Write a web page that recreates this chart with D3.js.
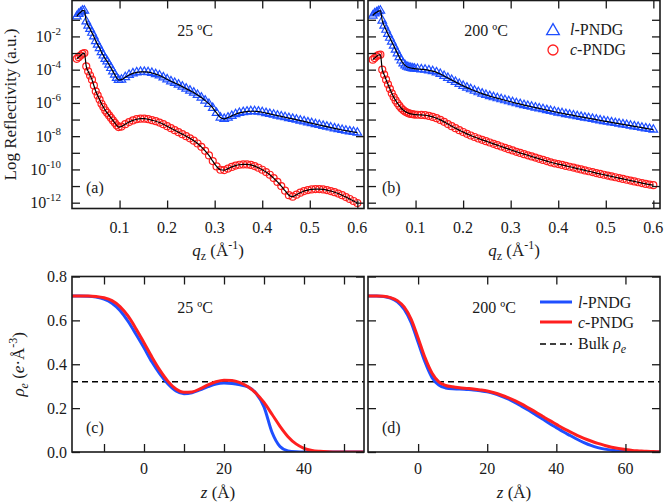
<!DOCTYPE html>
<html>
<head>
<meta charset="utf-8">
<script src="https://cdn.jsdelivr.net/npm/d3@7"></script>
<style>
  body { margin: 0; background: #fff; }
  svg { display: block; font-family: "Liberation Serif", "Times New Roman", serif; }
</style>
</head>
<body>
<div id="chart"></div>
<script>
// q_z values of the reflectivity points (1/Å)
const qz = [0.010,0.014,0.018,0.022,0.026,0.030,0.034,0.038,0.042,0.046,0.050,0.054,0.058,0.062,0.066,0.070,0.074,0.078,0.082,0.086,0.090,0.094,0.098,
  0.104,0.112,0.120,0.128,0.136,0.144,0.152,0.160,0.168,0.176,0.184,0.192,0.200,0.208,0.216,0.224,0.232,0.240,0.248,0.256,0.264,0.272,0.280,0.288,0.296,0.304,0.312,0.320,
  0.328,0.336,0.344,0.352,0.360,0.368,0.376,0.384,0.392,0.400,0.408,0.416,0.424,0.432,0.440,0.448,0.456,0.464,0.472,0.480,0.488,0.496,0.504,0.512,0.520,0.528,0.536,0.544,
  0.552,0.560,0.568,0.576,0.584,0.592,0.600];

// log10 reflectivity, 25 ºC
const linear25 = [-0.80,-0.65,-0.55,-0.45,-0.45,-1.10,-1.35,-1.55,-1.78,-2.00,-2.28,-2.50,-2.70,-2.95,-3.15,-3.35,-3.50,-3.70,-3.90,-4.10,-4.30,-4.50,-4.62,
  -4.60,-4.45,-4.32,-4.22,-4.16,-4.13,-4.13,-4.15,-4.20,-4.27,-4.35,-4.46,-4.58,-4.70,-4.80,-4.90,-5.02,-5.14,-5.26,-5.38,-5.52,-5.68,-5.86,-6.06,-6.30,-6.60,-6.88,-6.96,
  -6.88,-6.78,-6.68,-6.60,-6.55,-6.52,-6.50,-6.50,-6.52,-6.56,-6.61,-6.66,-6.71,-6.76,-6.81,-6.86,-6.91,-6.96,-7.01,-7.06,-7.11,-7.17,-7.22,-7.28,-7.33,-7.38,-7.43,-7.48,
  -7.53,-7.58,-7.63,-7.67,-7.71,-7.75,-7.79];
const cyclic25 = [-3.35,-3.25,-3.15,-3.05,-3.00,-3.80,-4.10,-4.35,-4.60,-4.95,-5.30,-5.55,-5.80,-6.05,-6.25,-6.45,-6.60,-6.75,-6.90,-7.05,-7.20,-7.35,-7.45,
  -7.42,-7.28,-7.15,-7.05,-6.98,-6.95,-6.95,-6.98,-7.04,-7.10,-7.18,-7.28,-7.40,-7.52,-7.64,-7.76,-7.88,-8.00,-8.13,-8.27,-8.44,-8.64,-8.88,-9.16,-9.50,-9.82,-10.02,-10.04,
  -9.95,-9.85,-9.77,-9.72,-9.70,-9.70,-9.73,-9.80,-9.90,-10.02,-10.16,-10.32,-10.52,-10.75,-11.00,-11.28,-11.55,-11.64,-11.52,-11.40,-11.30,-11.24,-11.20,-11.18,-11.18,-11.20,-11.24,-11.30,
  -11.37,-11.45,-11.55,-11.66,-11.78,-11.90,-12.02];

// log10 reflectivity, 200 ºC
const linear200 = [-0.75,-0.62,-0.55,-0.48,-0.45,-1.05,-1.35,-1.60,-1.85,-2.08,-2.32,-2.55,-2.80,-3.02,-3.25,-3.45,-3.62,-3.74,-3.82,-3.87,-3.90,-3.92,-3.94,
  -3.96,-3.98,-4.00,-4.04,-4.09,-4.16,-4.26,-4.38,-4.50,-4.62,-4.74,-4.86,-4.97,-5.08,-5.18,-5.27,-5.36,-5.44,-5.52,-5.59,-5.66,-5.72,-5.78,-5.84,-5.90,-5.96,-6.02,-6.07,
  -6.13,-6.18,-6.23,-6.28,-6.33,-6.38,-6.43,-6.48,-6.53,-6.58,-6.62,-6.67,-6.71,-6.75,-6.80,-6.84,-6.88,-6.92,-6.96,-7.00,-7.05,-7.09,-7.13,-7.17,-7.21,-7.25,-7.29,-7.33,
  -7.37,-7.41,-7.45,-7.49,-7.53,-7.57,-7.61];
const cyclic200 = [-3.40,-3.30,-3.20,-3.12,-3.10,-4.00,-4.30,-4.60,-4.88,-5.15,-5.42,-5.65,-5.85,-6.02,-6.18,-6.32,-6.43,-6.52,-6.58,-6.63,-6.66,-6.68,-6.70,
  -6.71,-6.72,-6.74,-6.78,-6.84,-6.92,-7.02,-7.14,-7.27,-7.40,-7.52,-7.64,-7.75,-7.86,-7.96,-8.05,-8.14,-8.22,-8.30,-8.38,-8.46,-8.54,-8.62,-8.70,-8.78,-8.86,-8.94,-9.01,
  -9.08,-9.15,-9.22,-9.29,-9.36,-9.43,-9.50,-9.57,-9.63,-9.68,-9.73,-9.79,-9.84,-9.89,-9.95,-10.00,-10.06,-10.11,-10.16,-10.22,-10.27,-10.32,-10.37,-10.42,-10.47,-10.52,-10.57,-10.62,
  -10.67,-10.72,-10.77,-10.82,-10.87,-10.91,-10.95];

// electron density profiles, 25 ºC
const z25 = [-18,-16,-14,-12,-10,-8,-6,-4,-2,0,2,4,6,8,10,12,14,16,18,20,22,24,26,28,30,32,34,36,38,40,42,44,46,48,50,52,54,56];
const rhoLinear25 = [0.711,0.711,0.710,0.706,0.697,0.678,0.645,0.596,0.537,0.475,0.410,0.355,0.310,0.278,0.266,0.270,0.283,0.298,0.310,0.314,0.312,0.306,0.297,0.268,0.206,0.090,0.025,0.005,0.001,0,0,0,0,0,0,0,0,0];
const rhoCyclic25 = [0.711,0.711,0.711,0.709,0.703,0.690,0.663,0.620,0.562,0.498,0.432,0.372,0.322,0.287,0.272,0.274,0.288,0.306,0.320,0.327,0.326,0.316,0.297,0.268,0.226,0.172,0.117,0.070,0.037,0.017,0.007,0.003,0.001,0,0,0,0,0];

// electron density profiles, 200 ºC
const z200 = [-16,-14,-12,-10,-8,-6,-4,-2,0,2,4,6,8,10,12,14,16,18,20,22,24,26,28,30,32,34,36,38,40,42,44,46,48,50,52,54,56,58,60,62,64,66,68,70];
const rhoLinear200 = [0.711,0.711,0.711,0.709,0.702,0.685,0.650,0.590,0.500,0.410,0.340,0.305,0.292,0.288,0.287,0.285,0.283,0.279,0.274,0.266,0.255,0.242,0.226,0.208,0.190,0.170,0.150,0.130,0.111,0.092,0.075,0.058,0.043,0.030,0.020,0.013,0.008,0.005,0.003,0.002,0.001,0.0005,0,0];
const rhoCyclic200 = [0.711,0.711,0.711,0.710,0.704,0.690,0.660,0.605,0.520,0.430,0.360,0.320,0.303,0.297,0.293,0.290,0.287,0.283,0.278,0.270,0.260,0.248,0.234,0.218,0.200,0.182,0.163,0.144,0.126,0.108,0.092,0.076,0.062,0.050,0.039,0.030,0.022,0.016,0.011,0.007,0.005,0.003,0.002,0.001];

const bulkRho = 0.32;

// tick values
const qTicks = [0.1, 0.2, 0.3, 0.4, 0.5, 0.6];
const decadeTicks = [-1,-2,-3,-4,-5,-6,-7,-8,-9,-10,-11,-12];
const decadeLabels = [-2,-4,-6,-8,-10,-12];
const rhoTicks = [0, 0.2, 0.4, 0.6, 0.8];
const zTicks25 = [-10, 0, 10, 20, 30, 40, 50];
const zLabels25 = [0, 20, 40];
const zTicks200 = [0, 20, 40, 60];

const BLUE = "#1f4fff";
const RED = "#ff1f1f";
const FONT = 16;

const svg = d3.select("#chart").append("svg")
  .attr("width", 666)
  .attr("height", 503);

const colA = [72, 364], colB = [368, 660];
const rowTop = [208.5, 0.5], rowBot = [452, 276.5];

// draw inward ticks on all four sides plus the frame
function frameAxes(g, x, y, xTicks, yTicks) {
  const [x0, x1] = x.range();
  const [y0, y1] = y.range();
  const tick = 8;
  g.append("g").attr("transform", `translate(0,${y0})`)
    .call(d3.axisBottom(x).tickValues(xTicks).tickSizeInner(-tick).tickSizeOuter(0).tickFormat(""));
  g.append("g").attr("transform", `translate(0,${y1})`)
    .call(d3.axisTop(x).tickValues(xTicks).tickSizeInner(-tick).tickSizeOuter(0).tickFormat(""));
  g.append("g").attr("transform", `translate(${x0},0)`)
    .call(d3.axisLeft(y).tickValues(yTicks).tickSizeInner(-tick).tickSizeOuter(0).tickFormat(""));
  g.append("g").attr("transform", `translate(${x1},0)`)
    .call(d3.axisRight(y).tickValues(yTicks).tickSizeInner(-tick).tickSizeOuter(0).tickFormat(""));
  g.selectAll(".domain").remove();
  g.selectAll(".tick line").attr("stroke", "#1a1a1a").attr("stroke-width", 1.3);
  g.append("rect")
    .attr("x", x0).attr("y", y1)
    .attr("width", x1 - x0).attr("height", y0 - y1)
    .attr("fill", "none").attr("stroke", "#1a1a1a").attr("stroke-width", 1.6);
}

function clipFor(id, x, y) {
  const [x0, x1] = x.range();
  const [y0, y1] = y.range();
  svg.append("clipPath").attr("id", id).append("rect")
    .attr("x", x0).attr("y", y1).attr("width", x1 - x0).attr("height", y0 - y1);
}

function label(g, x, y, anchor) {
  return g.append("text").attr("x", x).attr("y", y)
    .attr("text-anchor", anchor || "start")
    .style("font-size", FONT + "px")
    .attr("fill", "#1a1a1a");
}

// ---------- reflectivity panels ----------
function reflPanel(cols, id, temp, tempX, tag, blueVals, redVals, showY, showLegend) {
  const x = d3.scaleLinear().domain([0, 0.614]).range(cols);
  const y = d3.scaleLog().domain([Math.pow(10, -12.35), Math.pow(10, 0.16)]).range(rowTop);
  const g = svg.append("g");
  clipFor("clip-" + id, x, y);

  const data = qz.map((q, i) => ({ q, b: Math.pow(10, blueVals[i]), r: Math.pow(10, redVals[i]) }));
  const plot = g.append("g").attr("clip-path", `url(#clip-${id})`);

  plot.selectAll("path.tri")
    .data(data)
    .join("path")
    .attr("class", "tri")
    .attr("transform", d => `translate(${x(d.q)},${y(d.b)})`)
    .attr("d", d3.symbol(d3.symbolTriangle, 32))
    .attr("fill", "none")
    .attr("stroke", BLUE)
    .attr("stroke-width", 1.2);

  plot.selectAll("circle.dot")
    .data(data)
    .join("circle")
    .attr("class", "dot")
    .attr("cx", d => x(d.q))
    .attr("cy", d => y(d.r))
    .attr("r", 3.5)
    .attr("fill", "none")
    .attr("stroke", RED)
    .attr("stroke-width", 1.2);

  const fitB = d3.line().x(d => x(d.q)).y(d => y(d.b)).curve(d3.curveMonotoneX);
  const fitR = d3.line().x(d => x(d.q)).y(d => y(d.r)).curve(d3.curveMonotoneX);
  plot.append("path").datum(data).attr("d", fitB)
    .attr("fill", "none").attr("stroke", "#000").attr("stroke-width", 1.2);
  plot.append("path").datum(data).attr("d", fitR)
    .attr("fill", "none").attr("stroke", "#000").attr("stroke-width", 1.2);

  frameAxes(g, x, y, qTicks, decadeTicks.map(e => Math.pow(10, e)));

  // x tick labels
  qTicks.forEach(t => {
    label(g, x(t), 233, "middle").text(d3.format(".1f")(t));
  });
  // x title
  const xt = label(g, (cols[0] + cols[1]) / 2, 256, "middle").style("font-size", "17px");
  xt.append("tspan").style("font-style", "italic").text("q");
  xt.append("tspan").attr("dy", 4).style("font-size", "12px").text("z");
  xt.append("tspan").attr("dy", -4).text(" (Å");
  xt.append("tspan").attr("dy", -7).style("font-size", "12px").text("-1");
  xt.append("tspan").attr("dy", 7).text(")");

  if (showY) {
    decadeLabels.forEach(e => {
      const t = label(g, 61, y(Math.pow(10, e)) + 5.5, "end");
      t.append("tspan").text("10");
      t.append("tspan").attr("dy", -7).style("font-size", "11px").text(String(e));
    });
    label(g, 0, 0, "middle")
      .attr("transform", `translate(16,${(rowTop[0] + rowTop[1]) / 2}) rotate(-90)`)
      .style("font-size", "17px")
      .text("Log Reflectivity (a.u.)");
  }

  label(g, tempX, 36, "middle").text(temp);
  label(g, cols[0] + 14, 193).text(tag);

  if (showLegend) {
    g.append("path")
      .attr("transform", "translate(553,31)")
      .attr("d", d3.symbol(d3.symbolTriangle, 70))
      .attr("fill", "none").attr("stroke", BLUE).attr("stroke-width", 1.3);
    g.append("circle").attr("cx", 553).attr("cy", 50).attr("r", 5)
      .attr("fill", "none").attr("stroke", RED).attr("stroke-width", 1.3);
    const l1 = label(g, 570, 35);
    l1.append("tspan").style("font-style", "italic").text("l");
    l1.append("tspan").text("-PNDG");
    const l2 = label(g, 570, 55);
    l2.append("tspan").style("font-style", "italic").text("c");
    l2.append("tspan").text("-PNDG");
  }
}

reflPanel(colA, "a", "25 ºC", 195, "(a)", linear25, cyclic25, true, false);
reflPanel(colB, "b", "200 ºC", 486, "(b)", linear200, cyclic200, false, true);

// ---------- density panels ----------
function rhoPanel(cols, id, zDomain, zTicks, zLabels, temp, tempX, tag, zs, blueVals, redVals, showY, showLegend) {
  const x = d3.scaleLinear().domain(zDomain).range(cols);
  const y = d3.scaleLinear().domain([0, 0.8]).range(rowBot);
  const g = svg.append("g");
  clipFor("clip-" + id, x, y);
  const plot = g.append("g").attr("clip-path", `url(#clip-${id})`);

  plot.append("line")
    .attr("x1", cols[0]).attr("x2", cols[1])
    .attr("y1", y(bulkRho)).attr("y2", y(bulkRho))
    .attr("stroke", "#000").attr("stroke-width", 1.4)
    .attr("stroke-dasharray", "6,4");

  const data = zs.map((z, i) => ({ z, b: blueVals[i], r: redVals[i] }));
  const lineB = d3.line().x(d => x(d.z)).y(d => y(d.b)).curve(d3.curveMonotoneX);
  const lineR = d3.line().x(d => x(d.z)).y(d => y(d.r)).curve(d3.curveMonotoneX);
  plot.append("path").datum(data).attr("d", lineB)
    .attr("fill", "none").attr("stroke", BLUE).attr("stroke-width", 3);
  plot.append("path").datum(data).attr("d", lineR)
    .attr("fill", "none").attr("stroke", RED).attr("stroke-width", 3);

  frameAxes(g, x, y, zTicks, rhoTicks);

  zLabels.forEach(t => label(g, x(t), 474, "middle").text(t));
  const xt = label(g, (cols[0] + cols[1]) / 2, 498, "middle").style("font-size", "17px");
  xt.append("tspan").style("font-style", "italic").text("z");
  xt.append("tspan").text(" (Å)");

  if (showY) {
    rhoTicks.forEach(t => label(g, 67, y(t) + 5.5, "end").text(d3.format(".1f")(t)));
    const yt = label(g, 0, 0, "middle")
      .attr("transform", `translate(24,${(rowBot[0] + rowBot[1]) / 2}) rotate(-90)`)
      .style("font-size", "17px");
    yt.append("tspan").style("font-style", "italic").text("ρ");
    yt.append("tspan").attr("dy", 4).style("font-size", "12px").style("font-style", "italic").text("e");
    yt.append("tspan").attr("dy", -4).text(" (");
    yt.append("tspan").style("font-style", "italic").text("e");
    yt.append("tspan").text("·Å");
    yt.append("tspan").attr("dy", -7).style("font-size", "12px").text("-3");
    yt.append("tspan").attr("dy", 7).text(")");
  }

  label(g, tempX, 313, "middle").text(temp);
  label(g, cols[0] + 14, 433).text(tag);

  if (showLegend) {
    const items = [
      { y: 302, color: BLUE, italic: "l", rest: "-PNDG" },
      { y: 322, color: RED, italic: "c", rest: "-PNDG" }
    ];
    items.forEach(it => {
      g.append("line").attr("x1", 540).attr("x2", 572).attr("y1", it.y).attr("y2", it.y)
        .attr("stroke", it.color).attr("stroke-width", 3);
      const t = label(g, 578, it.y + 6);
      t.append("tspan").style("font-style", "italic").text(it.italic);
      t.append("tspan").text(it.rest);
    });
    g.append("line").attr("x1", 540).attr("x2", 572).attr("y1", 344).attr("y2", 344)
      .attr("stroke", "#000").attr("stroke-width", 1.4).attr("stroke-dasharray", "6,4");
    const b = label(g, 578, 349);
    b.append("tspan").text("Bulk ");
    b.append("tspan").style("font-style", "italic").text("ρ");
    b.append("tspan").attr("dy", 4).style("font-size", "12px").style("font-style", "italic").text("e");
  }
}

rhoPanel(colA, "c", [-18, 55], zTicks25, zLabels25, "25 ºC", 195, "(c)", z25, rhoLinear25, rhoCyclic25, true, false);
rhoPanel(colB, "d", [-14.5, 70], zTicks200, zTicks200, "200 ºC", 494, "(d)", z200, rhoLinear200, rhoCyclic200, false, true);
</script>
</body>
</html>
